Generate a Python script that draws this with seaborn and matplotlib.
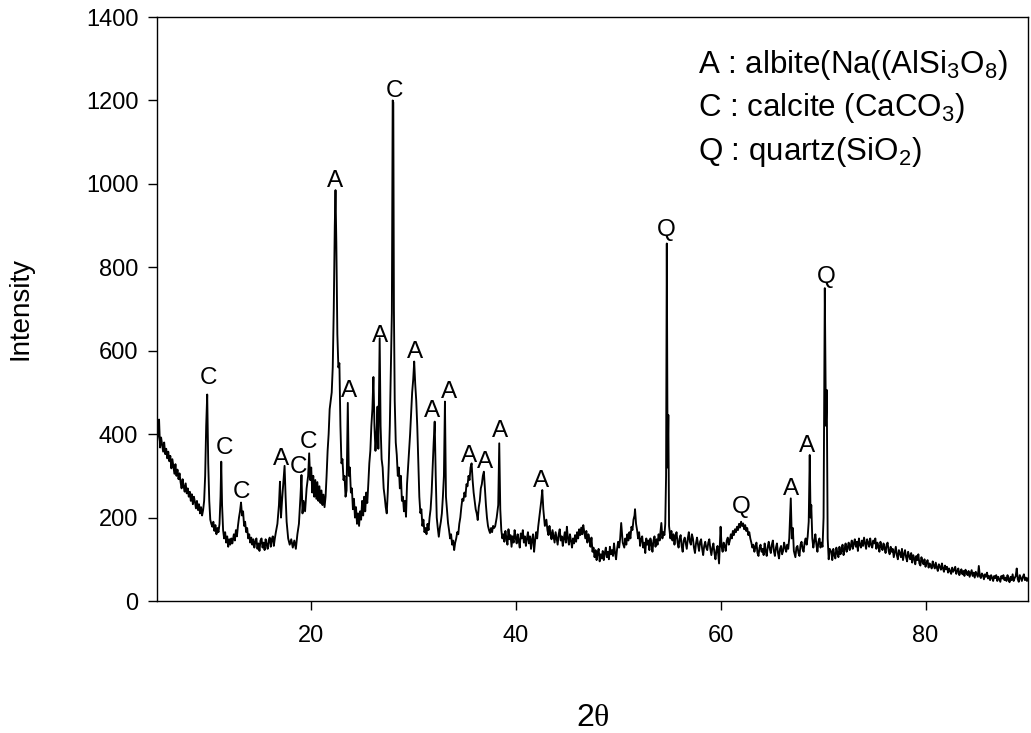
import matplotlib
matplotlib.use("Agg")
import matplotlib.pyplot as plt
import numpy as np
import pandas as pd
import seaborn as sns

# ---- digitised XRD scan (2theta, intensity), split by region ----
theta_a = [5.0, 5.1, 5.2, 5.3, 5.4, 5.5, 5.6, 5.7, 5.8, 5.9, 6.0, 6.1, 6.2, 6.3, 6.4, 6.5,
           6.6, 6.7, 6.8, 6.9, 7.0, 7.1, 7.2, 7.3, 7.4, 7.5, 7.6, 7.7, 7.8, 7.9, 8.0, 8.1,
           8.2, 8.3, 8.4, 8.5, 8.6, 8.7, 8.8, 8.9, 9.0, 9.1, 9.2, 9.3, 9.4, 9.5]
counts_a = [382, 398, 435, 368, 392, 375, 358, 380, 352, 365, 342, 358, 335, 348, 318, 340,
            322, 305, 328, 300, 315, 292, 306, 285, 270, 292, 275, 262, 282, 258, 270, 250,
            262, 240, 256, 232, 250, 238, 222, 240, 218, 232, 210, 225, 205, 218]

theta_b = [9.6, 9.7, 9.8, 9.9, 10.0, 10.1, 10.2, 10.3,
           10.4, 10.5, 10.6, 10.7, 10.8, 10.9, 11.0, 11.1, 11.2,
           11.27,
           11.35, 11.45, 11.55, 11.65, 11.75, 11.85, 11.95, 12.05, 12.15, 12.25, 12.35,
           12.5, 12.6, 12.7, 12.8, 12.9, 13.0, 13.1, 13.2, 13.3, 13.4, 13.5]
counts_b = [240, 300, 420, 495, 330, 240, 195, 185,
            178, 190, 168, 182, 160, 175, 165, 185, 250,
            334,
            230, 170, 150, 165, 140, 155, 130, 148, 135, 150, 138,
            160, 145, 170, 155, 180, 200, 215, 236, 205, 215, 180]

theta_b2 = [13.6, 13.7, 13.8, 13.9, 14.0, 14.1, 14.2, 14.3, 14.4, 14.5,
            14.6, 14.7, 14.8, 14.9, 15.0, 15.1, 15.2, 15.3, 15.4, 15.5,
            15.6, 15.7, 15.8, 15.9, 16.0, 16.1, 16.2, 16.3, 16.4, 16.5]
counts_b2 = [190, 165, 175, 150, 160, 140, 152, 135, 148, 128,
             142, 150, 125, 138, 120, 145, 150, 128, 140, 122,
             148, 135, 125, 145, 152, 130, 148, 155, 132, 150]

theta_c = [16.6, 16.75, 16.9, 17.0, 17.1, 17.2, 17.35, 17.45, 17.55, 17.65,
           17.8, 17.95, 18.1, 18.25, 18.4, 18.55, 18.7, 18.85, 19.0, 19.1,
           19.2, 19.3, 19.45, 19.6, 19.75, 19.85, 19.95, 20.05, 20.15, 20.25,
           20.35, 20.45, 20.55, 20.65, 20.75, 20.85, 20.95, 21.05, 21.15, 21.25, 21.35, 21.45]
counts_c = [165, 185, 230, 286, 200, 240, 290, 324, 250, 190,
            150, 135, 148, 128, 145, 125, 160, 185, 250, 302,
            210, 240, 215, 270, 300, 354, 290, 320, 260, 300,
            250, 290, 245, 285, 240, 275, 235, 265, 230, 255, 225, 250]

theta_d = [21.55, 21.65, 21.75, 21.85, 21.95, 22.05, 22.15, 22.25, 22.35,
           22.42,
           22.5, 22.6, 22.7, 22.8, 22.9, 23.0, 23.1, 23.2, 23.3, 23.4, 23.5,
           23.62, 23.72, 23.82, 23.92, 24.02, 24.12, 24.22, 24.32, 24.42, 24.52,
           24.62, 24.72, 24.82, 24.92, 25.02, 25.12, 25.22, 25.32, 25.42, 25.52,
           25.62, 25.72, 25.82, 25.92, 26.02, 26.12, 26.22, 26.32, 26.42, 26.52,
           26.6, 26.73, 26.82, 26.92, 27.02, 27.12, 27.22, 27.32, 27.42, 27.52]
counts_d = [300, 360, 400, 460, 480, 500, 560, 700, 900,
            985,
            860, 640, 560, 570, 420, 330, 340, 290, 300, 250, 265,
            475, 300, 320, 260, 270, 220, 245, 200, 225, 185,
            210, 180, 215, 195, 240, 205, 250, 215, 260, 235,
            280, 330, 360, 420, 460, 537, 420, 360, 400, 466,
            365, 630, 420, 340, 320, 270, 250, 225, 210, 260]

theta_e = [27.62, 27.72, 27.82, 27.92, 28.0, 28.06, 28.12,
           28.2, 28.3, 28.4, 28.5, 28.6, 28.7, 28.8, 28.9, 29.0, 29.1,
           29.2, 29.3, 29.4, 29.5, 29.6, 29.7, 29.8, 29.9, 30.0, 30.1,
           30.2, 30.3, 30.4, 30.5, 30.6, 30.7, 30.8, 30.9, 31.0, 31.1,
           31.2, 31.3, 31.4, 31.5, 31.6, 31.7, 31.8, 31.9, 32.0, 32.1,
           32.2, 32.3, 32.4, 32.5, 32.6, 32.7, 32.8, 32.9, 33.0, 33.1,
           33.2, 33.3, 33.4, 33.5, 33.6, 33.7, 33.8, 33.9, 34.0, 34.1,
           34.2, 34.3, 34.4, 34.5, 34.6, 34.7, 34.8, 34.9, 35.0, 35.1,
           35.2, 35.3, 35.4, 35.5, 35.6, 35.7, 35.8, 35.9, 36.0, 36.1,
           36.2, 36.3, 36.4, 36.5, 36.6, 36.7, 36.8, 36.9, 37.0, 37.1,
           37.2, 37.3, 37.4, 37.5, 37.6, 37.7, 37.8, 37.9, 38.0,
           38.15, 38.3, 38.4, 38.5, 38.6, 38.7]
counts_e = [330, 420, 560, 690, 1200, 1195, 700,
            480, 380, 350, 300, 320, 270, 300, 240, 250, 215,
            240, 202, 280, 320, 362, 400, 450, 500, 530, 574,
            520, 480, 418, 330, 250, 211, 220, 180, 195, 165,
            175, 160, 185, 170, 200, 220, 260, 320, 380, 430,
            300, 200, 175, 154, 175, 190, 210, 250, 300, 478,
            250, 220, 187, 170, 150, 160, 135, 145, 122, 140,
            150, 165, 160, 185, 200, 225, 245, 240, 260, 250,
            280, 275, 300, 290, 320, 330, 290, 260, 240, 220,
            210, 194, 225, 240, 270, 280, 300, 310, 270, 230,
            200, 180, 170, 163, 175, 165, 180, 175, 179,
            200, 230, 378, 220, 170, 150]

theta_f = [38.8, 38.9, 39.0, 39.1, 39.2, 39.3, 39.4, 39.5, 39.6, 39.7,
           39.8, 39.9, 40.0, 40.1, 40.2, 40.3, 40.4, 40.5, 40.6, 40.7,
           40.8, 40.9, 41.0, 41.1, 41.2, 41.3, 41.4, 41.5, 41.6, 41.7,
           41.8, 41.9, 42.0, 42.1, 42.2,
           42.35, 42.5, 42.6, 42.7, 42.85,
           43.0, 43.1, 43.2, 43.3, 43.4, 43.5, 43.6, 43.7, 43.8, 43.9,
           44.0, 44.1, 44.2, 44.3, 44.4, 44.5, 44.6, 44.7, 44.8, 44.9,
           45.0, 45.1, 45.2, 45.3, 45.4, 45.5, 45.6, 45.7, 45.8, 45.9,
           46.0, 46.1, 46.2, 46.3, 46.4, 46.5, 46.6, 46.7, 46.8, 46.9,
           47.0, 47.1, 47.2, 47.3, 47.4, 47.5, 47.6, 47.7, 47.8, 47.9,
           48.0, 48.1, 48.2, 48.3, 48.4, 48.5, 48.6, 48.7, 48.8, 48.9,
           49.0, 49.1, 49.2, 49.3, 49.4, 49.5, 49.6, 49.7, 49.8, 49.9,
           50.0, 50.1, 50.2,
           50.3, 50.45, 50.6, 50.7, 50.8, 50.9, 51.0, 51.1, 51.2, 51.3,
           51.4, 51.5, 51.6, 51.65, 51.75, 51.85, 51.95,
           52.05, 52.15, 52.25, 52.35, 52.45, 52.55, 52.65, 52.75, 52.85, 52.95,
           53.05, 53.15, 53.25, 53.35, 53.45, 53.55, 53.65, 53.75, 53.85, 53.95,
           54.05, 54.15,
           54.22, 54.32, 54.42, 54.52, 54.6]
counts_f = [160, 142, 168, 150, 135, 172, 148, 158, 130, 155,
            140, 170, 152, 138, 160, 145, 128, 162, 150, 170,
            140, 155, 132, 150, 165, 138, 155, 125, 148, 160,
            118, 145, 165, 150, 178,
            210, 240, 266, 220, 180,
            195, 170, 158, 180, 162, 148, 170, 155, 140, 165,
            150, 135, 160, 172, 145, 155, 132, 150, 165, 140,
            178, 150, 135, 160, 145, 128, 150, 138, 158, 142,
            165, 150, 172, 158, 176, 160, 182, 165, 150, 168,
            140, 160, 148, 130, 152, 118, 128, 105, 122, 98,
            115, 125, 95, 112, 102, 120, 98, 115, 128, 105,
            118, 100, 130, 112, 122, 108, 138, 115, 100, 125,
            142, 128, 150,
            187, 140, 128, 150, 135, 160, 145, 165, 150, 178,
            170, 195, 205, 220, 185, 170, 150,
            165, 132, 148, 155, 128, 140, 115, 150, 135, 145,
            122, 150, 138, 118, 145, 155, 130, 148, 135, 160,
            145, 170,
            187, 150, 165, 158, 185]

theta_g = [54.68, 54.75, 54.83, 54.9, 54.97,
           55.1, 55.2, 55.3, 55.4, 55.5, 55.6, 55.7, 55.8, 55.9, 56.0,
           56.1, 56.2, 56.3, 56.4, 56.5, 56.6, 56.7, 56.8, 56.9, 57.0,
           57.1, 57.2, 57.3, 57.4, 57.5, 57.6, 57.7, 57.8, 57.9, 58.0,
           58.1, 58.2, 58.3, 58.4, 58.5, 58.6, 58.7, 58.8, 58.9, 59.0,
           59.1, 59.2, 59.3, 59.4, 59.5, 59.6, 59.7,
           59.85, 60.0,
           60.1, 60.2, 60.3, 60.4, 60.5, 60.6, 60.7, 60.8, 60.9, 61.0,
           61.1, 61.2, 61.3, 61.4, 61.5, 61.6, 61.7, 61.8, 61.9, 62.0,
           62.1, 62.2, 62.3, 62.4, 62.5, 62.6, 62.7, 62.8, 62.9, 63.0,
           63.1, 63.2, 63.3, 63.4, 63.5, 63.6, 63.7, 63.8, 63.9, 64.0,
           64.1, 64.2, 64.3, 64.4, 64.5, 64.6, 64.7, 64.8, 64.9, 65.0,
           65.1, 65.2, 65.3, 65.4, 65.5, 65.6, 65.7, 65.8, 65.9, 66.0,
           66.1, 66.2, 66.3, 66.4, 66.5, 66.6, 66.7,
           66.85, 66.95, 67.05, 67.15, 67.3,
           67.4, 67.5, 67.6, 67.7, 67.8, 67.9, 68.0, 68.1, 68.2, 68.3, 68.4, 68.5,
           68.6, 68.7, 68.78, 68.85, 68.95,
           69.05, 69.15, 69.25, 69.35, 69.45, 69.55, 69.65, 69.75, 69.85, 69.95,
           70.05, 70.17, 70.28, 70.36, 70.45, 70.55, 70.65]
counts_g = [300, 857, 320, 446, 180,
            150, 168, 145, 160, 135, 155, 165, 140, 128, 150,
            158, 132, 118, 145, 152, 138, 125, 150, 165, 142,
            135, 160, 150, 128, 115, 138, 152, 135, 120, 142,
            148, 125, 110, 132, 142, 128, 122, 140, 148, 125,
            110, 128, 138, 115, 100, 122, 132,
            90, 178,
            130, 118, 140, 132, 120, 145, 152, 135, 145, 160,
            150, 168, 158, 172, 165, 178, 170, 185, 176, 190,
            180, 186, 172, 182, 168, 175, 158, 165, 150, 140,
            128, 135, 118, 130, 140, 115, 108, 128, 135, 118,
            125, 110, 138, 120, 108, 130, 142, 125, 115, 135,
            145, 120, 108, 128, 138, 115, 102, 125, 132, 112,
            120, 140, 128, 118, 135, 125, 150,
            246, 150, 175, 120, 105,
            128, 132, 115, 108, 135, 142, 125, 118, 140, 150, 135, 155,
            190, 350, 200, 230, 150,
            128, 145, 160, 135, 118, 142, 150, 128, 140, 130,
            200, 750, 420, 506, 150, 100, 125]

theta_h = [70.8, 70.9, 71.0, 71.1, 71.2, 71.3, 71.4, 71.5, 71.6, 71.7,
           71.8, 71.9, 72.0, 72.1, 72.2, 72.3, 72.4, 72.5, 72.6, 72.7,
           72.8, 72.9, 73.0, 73.1, 73.2, 73.3, 73.4, 73.5, 73.6, 73.7,
           73.8, 73.9, 74.0, 74.1, 74.2, 74.3, 74.4, 74.5, 74.6, 74.7,
           74.8, 74.9, 75.0, 75.1, 75.2, 75.3, 75.4, 75.5, 75.6, 75.7,
           75.8, 75.9, 76.0, 76.1, 76.2, 76.3, 76.4, 76.5, 76.6, 76.7,
           76.8, 76.9, 77.0, 77.1, 77.2, 77.3, 77.4, 77.5, 77.6, 77.7,
           77.8, 77.9, 78.0, 78.1, 78.2, 78.3, 78.4, 78.5, 78.6, 78.7,
           78.8, 78.9, 79.0, 79.1, 79.2, 79.3, 79.4, 79.5, 79.6, 79.7,
           79.8, 79.9, 80.0, 80.1, 80.2, 80.3, 80.4, 80.5, 80.6, 80.7,
           80.8, 80.9, 81.0, 81.1, 81.2, 81.3, 81.4, 81.5, 81.6, 81.7,
           81.8, 81.9, 82.0, 82.1, 82.2, 82.3, 82.4, 82.5, 82.6, 82.7,
           82.8, 82.9, 83.0, 83.1, 83.2, 83.3, 83.4, 83.5, 83.6, 83.7,
           83.8, 83.9, 84.0, 84.1, 84.2, 84.3, 84.4, 84.5, 84.6, 84.7,
           84.8, 84.9, 85.0, 85.1, 85.2, 85.3, 85.4, 85.5, 85.6, 85.7,
           85.8, 85.9, 86.0, 86.1, 86.2, 86.3, 86.4, 86.5, 86.6, 86.7,
           86.8, 86.9, 87.0, 87.1, 87.2, 87.3, 87.4, 87.5, 87.6, 87.7,
           87.8, 87.9, 88.0, 88.1, 88.2, 88.3, 88.4, 88.5, 88.6, 88.7,
           88.8, 88.9, 89.0, 89.1, 89.2, 89.3, 89.4, 89.5, 89.6, 89.7,
           89.8, 89.9, 90.0]
counts_h = [118, 98, 125, 110, 102, 128, 115, 105, 130, 112,
            120, 135, 110, 125, 138, 118, 128, 140, 122, 132,
            145, 125, 138, 148, 130, 142, 120, 150, 135, 128,
            145, 132, 152, 138, 125, 148, 140, 130, 150, 135,
            128, 145, 138, 150, 125, 140, 132, 118, 142, 130,
            122, 138, 128, 115, 135, 140, 120, 112, 130, 118,
            125, 105, 118, 130, 110, 100, 122, 115, 105, 125,
            98, 112, 122, 105, 95, 118, 108, 100, 115, 92,
            110, 102, 88, 108, 98, 112, 90, 85, 105, 95,
            88, 100, 82, 92, 98, 80, 90, 85, 78, 95,
            85, 78, 92, 80, 72, 88, 82, 75, 90, 78,
            70, 85, 76, 82, 68, 78, 72, 65, 80, 70,
            75, 82, 65, 72, 78, 62, 70, 76, 64, 72,
            60, 75, 68, 62, 72, 58, 66, 74, 60, 68,
            56, 70, 64, 58, 84, 60, 55, 66, 62, 52,
            64, 58, 68, 54, 60, 50, 62, 56, 48, 60,
            55, 62, 48, 58, 52, 46, 60, 54, 62, 50,
            56, 48, 62, 52, 45, 58, 50, 64, 48, 55,
            60, 78, 52, 46, 62, 55, 48, 58, 64, 50,
            56, 48, 55]

# ---- phase labels above the peaks ----
peak_letters = ["C", "C", "C", "A", "C", "C", "A", "A", "A", "C", "A",
                "A", "A", "A", "A", "A", "A", "Q", "Q", "A", "A", "Q"]
peak_theta = [10.0, 11.56, 13.2, 17.1, 18.84, 19.75, 22.35, 23.7, 26.73, 28.2, 30.15,
              31.87, 33.46, 35.44, 36.97, 38.5, 42.5, 54.68, 62.0, 66.86, 68.48, 70.27]
peak_label_y = [520, 352, 247, 326, 306, 367, 993, 489, 622, 1209, 582,
                442, 487, 334, 319, 394, 274, 875, 211, 254, 358, 763]

key_lines = ["A : albite(Na((AlSi$_3$O$_8$)",
             "C : calcite (CaCO$_3$)",
             "Q : quartz(SiO$_2$)"]

x_ticks = [20, 40, 60, 80]
y_ticks = [0, 200, 400, 600, 800, 1000, 1200, 1400]

theta = (theta_a + theta_b + theta_b2 + theta_c + theta_d + theta_e
         + theta_f + theta_g + theta_h)
counts = (counts_a + counts_b + counts_b2 + counts_c + counts_d + counts_e
          + counts_f + counts_g + counts_h)
assert len(theta) == len(counts)
df = pd.DataFrame({"two_theta": theta, "intensity": counts})

# ---- style ----
sns.set_theme(style="ticks")
plt.rcParams["font.family"] = ["Liberation Sans", "DejaVu Sans"]
plt.rcParams["mathtext.fontset"] = "custom"
plt.rcParams["mathtext.rm"] = "Liberation Serif"
plt.rcParams["mathtext.default"] = "regular"
plt.rcParams["text.color"] = "black"
plt.rcParams["axes.labelcolor"] = "black"

fig = plt.figure(figsize=(10.31, 7.33), dpi=100)
ax = fig.add_axes([157 / 1031, 132 / 733, 871 / 1031, 584 / 733])

sns.lineplot(data=df, x="two_theta", y="intensity", ax=ax, color="black",
             linewidth=1.35, estimator=None, sort=False)

ax.set_xlim(5, 90)
ax.set_ylim(0, 1400)
ax.set_xticks(x_ticks)
ax.set_yticks(y_ticks)
ax.tick_params(axis="both", direction="out", length=6.5, width=1.0,
               colors="black", labelsize=17)
ax.tick_params(axis="x", pad=11)
ax.tick_params(axis="y", pad=7)
for s in ax.spines.values():
    s.set_visible(True)
    s.set_color("black")
    s.set_linewidth(1.0)

ax.set_xlabel("2$\\mathrm{\\theta}$", fontsize=23)
ax.set_ylabel("Intensity", fontsize=20)
ax.xaxis.set_label_coords(0.5, -0.175)
ax.yaxis.set_label_coords(-0.142, 0.5)

for letter, tx, ty in zip(peak_letters, peak_theta, peak_label_y):
    ax.text(tx, ty, letter, ha="center", va="baseline", fontsize=17.5, color="black")

for i, line in enumerate(key_lines):
    ax.text(0.621, [0.904, 0.830, 0.755][i], line, transform=ax.transAxes,
            ha="left", va="baseline", fontsize=22.5, color="black")

fig.savefig("out.png", dpi=100)
